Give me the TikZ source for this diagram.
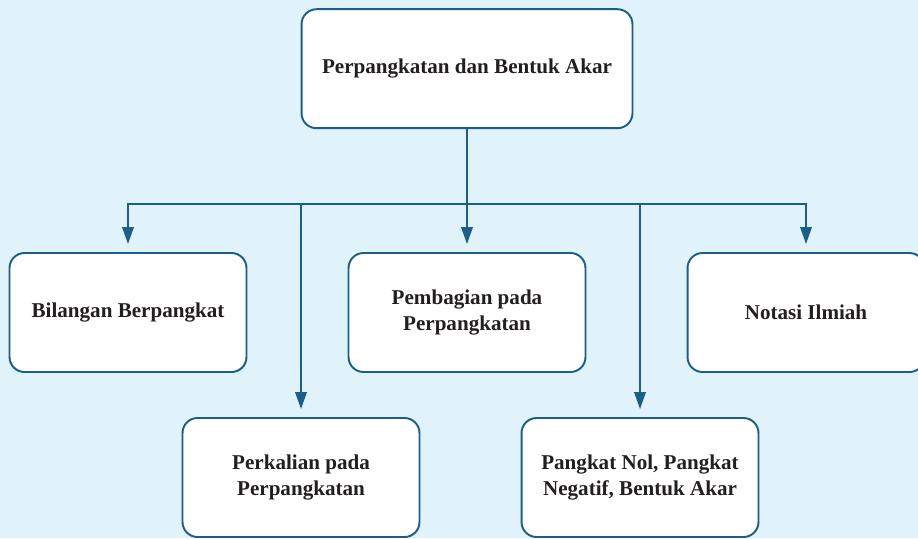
\documentclass[tikz,border=0pt]{standalone}
\usepackage{fontspec}
\newfontfamily\boxfont{Liberation Serif}[BoldFont={Liberation Serif Bold}]
\usepackage{tikz}
\usetikzlibrary{calc}
\usetikzlibrary{arrows.meta}
\definecolor{bgblue}{HTML}{E0F2FA}
\definecolor{lineblue}{HTML}{1B5E8A}
\definecolor{txtgray}{HTML}{231F20}
\tikzset{
  topicbox/.style={draw=lineblue,line width=1.1pt,fill=white,rounded corners=0.3cm,
    minimum width=4.74cm,minimum height=2.38cm,align=center,text=txtgray,
    font=\boxfont\fontsize{12}{14.6}\selectfont\bfseries},
  link/.style={lineblue,line width=1.1pt},
  arrowlink/.style={link,-{Triangle[length=0.34cm,width=0.23cm]},shorten >=0.16cm}
}

\begin{document}
\begin{tikzpicture}[x=0.02cm,y=-0.02cm]
  \fill[bgblue] (0,0) rectangle (918,538);
  \useasboundingbox (0,0) rectangle (918,538);
  \node[topicbox,minimum width=6.62cm] (akar) at (467,68.7) {Perpangkatan dan Bentuk Akar};
  \node[topicbox] (bilangan) at (128,312.5) {Bilangan Berpangkat};
  \node[topicbox] (bagi) at (467,312.5) {Pembagian pada\\Perpangkatan};
  \node[topicbox] (notasi) at (806,312.5) {Notasi Ilmiah};
  \node[topicbox] (kali) at (301,477.5) {Perkalian pada\\Perpangkatan};
  \node[topicbox] (nol) at (640,477.5) {Pangkat Nol, Pangkat\\Negatif, Bentuk Akar};
  \coordinate (hub) at (467,204);
  % trunk and branches
  \draw[link] (akar) -- (hub);
  \draw[link] (bilangan |- hub) -- (notasi |- hub);
  \draw[arrowlink] (hub) -| (bilangan);
  \draw[arrowlink] (hub) -| (kali);
  \draw[arrowlink] (hub) -- (bagi);
  \draw[arrowlink] (hub) -| (nol);
  \draw[arrowlink] (hub) -| (notasi);
\end{tikzpicture}
\end{document}
